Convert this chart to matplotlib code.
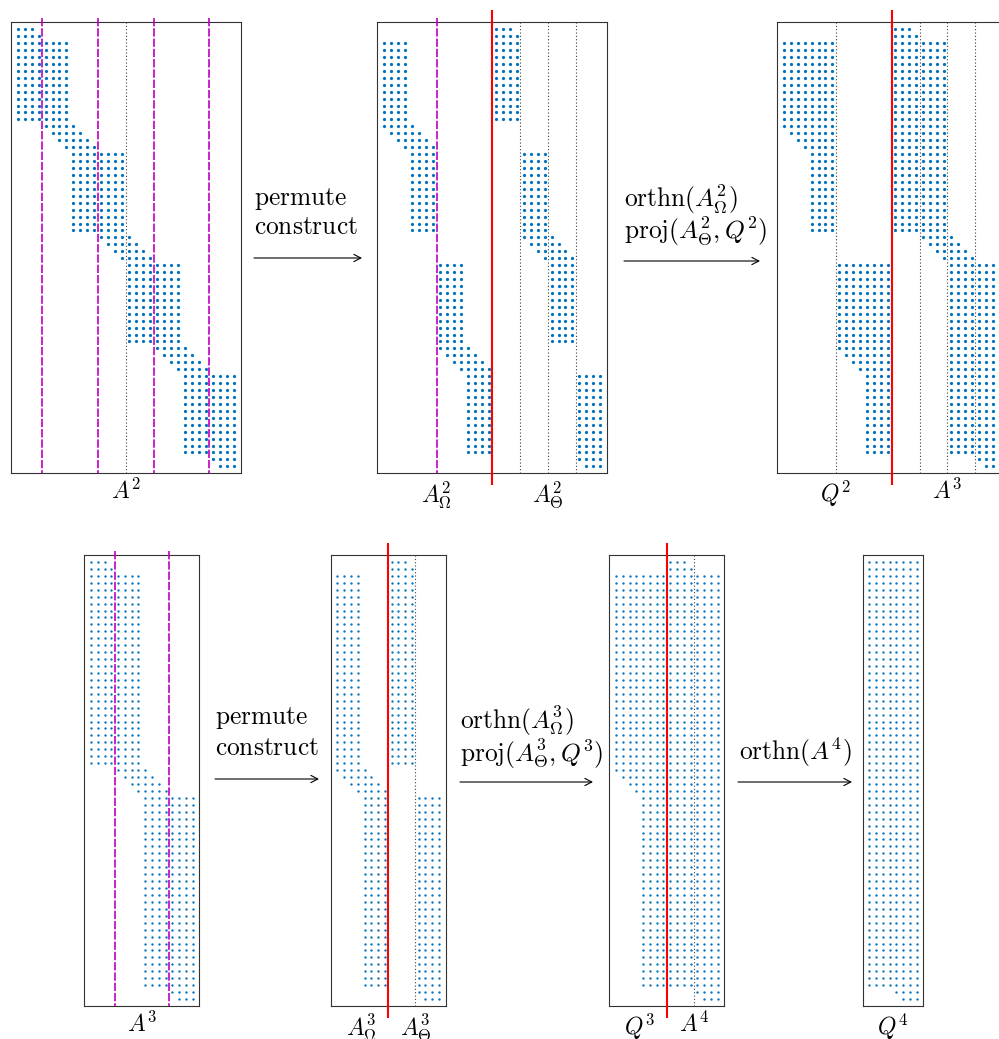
import matplotlib
matplotlib.use("Agg")
import matplotlib.pyplot as plt

plt.rcParams['mathtext.fontset'] = 'cm'
plt.rcParams['lines.scale_dashes'] = False

# ---------------------------------------------------------------------------
# Sparsity patterns: every column is stored as (first nonzero row, last row).
# All matrices have 64 rows.
# ---------------------------------------------------------------------------
N_ROWS = 64

# A^2 : 64 x 32, block banded
a2_first = [0, 0, 0, 1, 2, 2, 2, 2, 14, 15, 16, 17, 18, 18, 18, 18,
            30, 31, 32, 33, 34, 34, 34, 34, 46, 47, 48, 49, 50, 50, 50, 50]
a2_last = [13, 13, 13, 13, 14, 15, 16, 17, 29, 29, 29, 29, 30, 31, 32, 33,
           45, 45, 45, 45, 46, 47, 48, 49, 61, 61, 61, 61, 62, 63, 63, 63]

# column order of A^2 after the permutation: [A_Omega | A_Theta]
perm2 = [4, 5, 6, 7, 8, 9, 10, 11, 20, 21, 22, 23, 24, 25, 26, 27,
         0, 1, 2, 3, 12, 13, 14, 15, 16, 17, 18, 19, 28, 29, 30, 31]

# Q^2 = orthn(A^2_Omega) and A^3 = proj(A^2_Theta, Q^2)
q2_first = [2, 2, 2, 2, 2, 2, 2, 2, 34, 34, 34, 34, 34, 34, 34, 34]
q2_last = [14, 15, 16, 17, 29, 29, 29, 29, 46, 47, 48, 49, 61, 61, 61, 61]
a3_first = [0, 0, 0, 1, 2, 2, 2, 2, 30, 31, 32, 33, 34, 34, 34, 34]
a3_last = [29, 29, 29, 29, 30, 31, 32, 33, 61, 61, 61, 61, 62, 63, 63, 63]

# column order of A^3 after the permutation
perm3 = [4, 5, 6, 7, 8, 9, 10, 11, 0, 1, 2, 3, 12, 13, 14, 15]

# Q^3 = orthn(A^3_Omega), A^4 = proj(A^3_Theta, Q^3)
q3_first = [2, 2, 2, 2, 2, 2, 2, 2]
q3_last = [30, 31, 32, 33, 61, 61, 61, 61]
a4_first = [0, 0, 0, 1, 2, 2, 2, 2]
a4_last = [61, 61, 61, 61, 62, 63, 63, 63]

# Q^4 = orthn(A^4)
q4_first = [0, 0, 0, 0, 0, 0, 0, 0]
q4_last = [61, 61, 61, 61, 62, 63, 63, 63]

# ---------------------------------------------------------------------------
W, H = 999, 1039
DOT = '#0072BD'
MAGENTA = '#BF00BF'
RED = '#FF0000'
STEP_SIZE = 18.3

fig = plt.figure(figsize=(W / 100, H / 100), dpi=100)


def add_panel(left, top, width, height):
    ax = fig.add_axes([left / W, 1 - (top + height) / H, width / W, height / H])
    ax.set_xticks([])
    ax.set_yticks([])
    for s in ax.spines.values():
        s.set_linewidth(0.8)
        s.set_color('0.2')
    return ax


def draw_pattern(ax, first, last, ms):
    xs, ys = [], []
    for j, (a, b) in enumerate(zip(first, last)):
        for r in range(a, b + 1):
            xs.append(j)
            ys.append(r)
    ax.plot(xs, ys, 'o', ls='none', ms=ms, color=DOT, mec='none')
    ax.set_xlim(-1, len(first))
    ax.set_ylim(N_ROWS, -1)


def vline(ax, x, kind):
    if kind == 'split':
        ax.plot([x, x], [-2.75, N_ROWS + 1.7], color=RED, lw=1.5,
                clip_on=False, zorder=4, solid_capstyle='butt')
    elif kind == 'group':
        ax.plot([x, x], [-1.6, N_ROWS], color=MAGENTA, lw=1.2,
                ls=(0, (6, 1.4)), clip_on=False, zorder=3)
    else:
        ax.plot([x, x], [-1, N_ROWS], color='0.25', lw=0.8,
                ls=(0, (0.8, 1.6)), zorder=3)


def label(ax, x, text, size=17):
    ax.annotate(text, xy=(x, 0), xycoords=('data', 'axes fraction'),
                xytext=(0, -4), textcoords='offset points',
                ha='center', va='top', fontsize=size)


def ftext(x, y, text, size=STEP_SIZE):
    fig.text(x / W, 1 - y / H, text, ha='left', va='center', fontsize=size)


def arrow(x0, x1, y):
    fig.add_artist(matplotlib.patches.FancyArrowPatch(
        (x0 / W, 1 - y / H), (x1 / W, 1 - y / H), transform=fig.transFigure,
        arrowstyle='->,head_length=5,head_width=2.6', lw=0.8, color='k',
        shrinkA=0, shrinkB=0))


TOP_Y, TOP_H = 22.3, 451
BOT_Y, BOT_H = 555, 451
TOP_W = 230
BOT_CW = 6.77

# --- top row -------------------------------------------------------------
ax1 = add_panel(10.7, TOP_Y, TOP_W, TOP_H)
draw_pattern(ax1, a2_first, a2_last, 2.3)
for x in (3.5, 11.5, 19.5, 27.5):
    vline(ax1, x, 'group')
vline(ax1, 15.5, 'dot')
label(ax1, 15.5, r'$A^2$')

ax2 = add_panel(377.3, TOP_Y, TOP_W, TOP_H)
draw_pattern(ax2, [a2_first[p] for p in perm2], [a2_last[p] for p in perm2], 2.3)
vline(ax2, 7.5, 'group')
vline(ax2, 15.5, 'split')
for x in (19.5, 23.5, 27.5):
    vline(ax2, x, 'dot')
label(ax2, 7.5, r'$A^2_\Omega$')
label(ax2, 23.5, r'$A^2_\Theta$')

ax3 = add_panel(776.7, TOP_Y, TOP_W, TOP_H)
draw_pattern(ax3, q2_first + a3_first, q2_last + a3_last, 2.3)
vline(ax3, 7.5, 'dot')
vline(ax3, 15.5, 'split')
for x in (19.5, 23.5, 27.5):
    vline(ax3, x, 'dot')
label(ax3, 7.5, r'$Q^2$')
label(ax3, 23.5, r'$A^3$')

ftext(254, 199, r'$\mathrm{permute}$')
ftext(254, 227, r'$\mathrm{construct}$')
arrow(254, 362, 258)

ftext(624, 199, r'$\mathrm{orthn}(A^2_\Omega)$')
ftext(624, 231, r'$\mathrm{proj}(A^2_\Theta, Q^2)$')
arrow(624, 760, 261)

# --- bottom row ----------------------------------------------------------
ax4 = add_panel(84.3, BOT_Y, 17 * BOT_CW, BOT_H)
draw_pattern(ax4, a3_first, a3_last, 1.7)
for x in (3.5, 11.5):
    vline(ax4, x, 'group')
label(ax4, 7.5, r'$A^3$')

ax5 = add_panel(330.7, BOT_Y, 17 * BOT_CW, BOT_H)
draw_pattern(ax5, [a3_first[p] for p in perm3], [a3_last[p] for p in perm3], 1.7)
vline(ax5, 7.5, 'split')
vline(ax5, 11.5, 'dot')
label(ax5, 3.5, r'$A^3_\Omega$')
label(ax5, 11.5, r'$A^3_\Theta$')

ax6 = add_panel(609.3, BOT_Y, 17 * BOT_CW, BOT_H)
draw_pattern(ax6, q3_first + a4_first, q3_last + a4_last, 1.7)
vline(ax6, 7.5, 'split')
vline(ax6, 11.5, 'dot')
label(ax6, 3.5, r'$Q^3$')
label(ax6, 11.5, r'$A^4$')

ax7 = add_panel(862.5, BOT_Y, 9 * BOT_CW, BOT_H)
draw_pattern(ax7, q4_first, q4_last, 1.7)
label(ax7, 3.5, r'$Q^4$')

ftext(215, 718, r'$\mathrm{permute}$')
ftext(215, 748, r'$\mathrm{construct}$')
arrow(215, 319, 779)

ftext(460, 721, r'$\mathrm{orthn}(A^3_\Omega)$')
ftext(460, 754, r'$\mathrm{proj}(A^3_\Theta, Q^3)$')
arrow(460, 593, 782)

ftext(739, 752, r'$\mathrm{orthn}(A^4)$')
arrow(738, 852, 782)

fig.savefig('out.png', dpi=100)
